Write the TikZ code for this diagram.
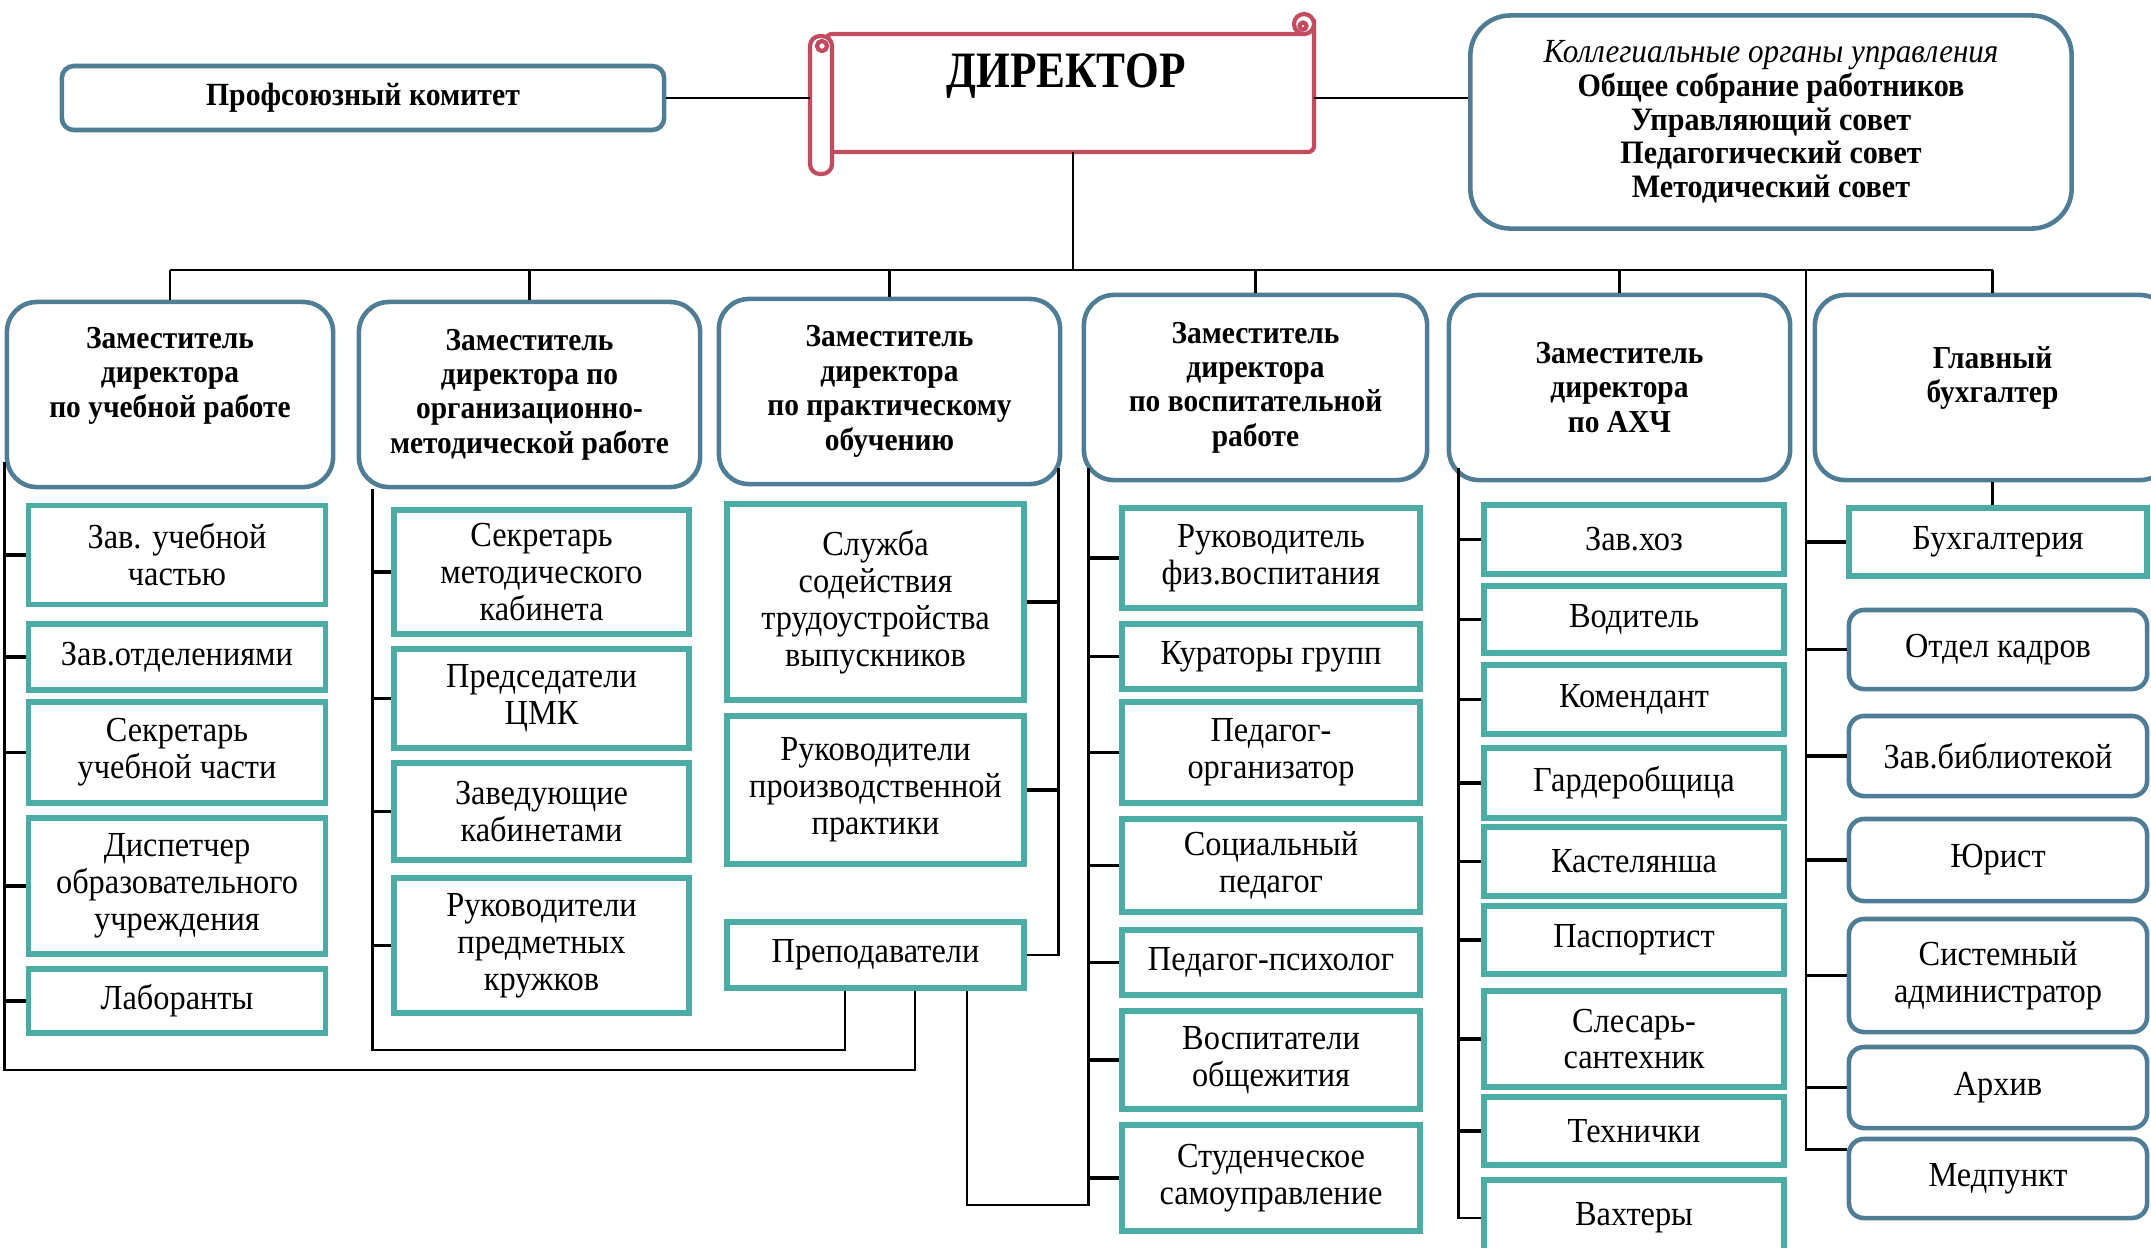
\documentclass[tikz,border=0pt]{standalone}
\usepackage{fontspec}
\setmainfont{Liberation Serif}[FakeStretch=0.92]
\newfontfamily\dirfont[FakeStretch=0.85]{Liberation Serif}
\usetikzlibrary{calc}

\definecolor{depblue}{RGB}{80,125,150}
\definecolor{unitteal}{RGB}{75,172,165}
\definecolor{scrollred}{RGB}{195,75,95}

\tikzset{
  deputy/.style={draw=depblue, line width=1.3pt, rounded corners=0.3cm, fill=white, align=center,
    inner sep=0pt, minimum height=1.85cm, font=\fontsize{9.1}{9.8}\selectfont\bfseries},
  unit/.style={draw=unitteal, line width=1.5pt, fill=white, align=center, inner sep=0pt,
    font=\fontsize{10}{10.5}\selectfont},
  unitround/.style={unit, draw=depblue, line width=1.3pt, rounded corners=0.15cm},
  council/.style={draw=depblue, line width=1.3pt, fill=white, align=center, inner sep=0pt},
  link/.style={black, line width=0.8pt},
  tick/.style={black, line width=1.1pt},
  scroll/.style={draw=scrollred, fill=white, line width=1.2pt}
}

\begin{document}
\begin{tikzpicture}[x=0.01cm, y=-0.01cm]
    \fill[white] (0,0) rectangle (2151,1247);
    \useasboundingbox (0,0) rectangle (2151,1247);

    % Director scroll
    \filldraw[scroll] (826,34) -- (1304,34) -- (1314,24) [rounded corners=0.06cm] -- (1314,152) -- (826,152) -- cycle;
    \filldraw[scroll] (1304,24) circle (0.1cm);
    \draw[scroll] (1303,26) circle (0.035cm);
    \filldraw[scroll, rounded corners=0.1cm] (810,36) rectangle (832,174);
    \draw[scroll] (822,46) circle (0.05cm);
    \node[font=\dirfont\fontsize{14.5}{16}\selectfont\bfseries] (dir) at (1066,76) {ДИРЕКТОР};

    \coordinate (dirL) at (810,98);
    \coordinate (dirR) at (1314,98);
    \coordinate (dirB) at (1073,152);
    \coordinate (bus) at (0,270);

    % Top row
    \node[council, rounded corners=0.12cm, minimum width=6.02cm, minimum height=0.64cm,
      font=\fontsize{9.2}{11}\selectfont\bfseries] (pk) at (363,98) {Профсоюзный комитет};
    \node[council, rounded corners=0.4cm, minimum width=6.01cm, minimum height=2.13cm,
      font=\fontsize{9.3}{9.6}\selectfont] (kol) at (1771,122)
      {{\fontsize{9.6}{9.6}\selectfont\itshape Коллегиальные органы управления}\\ \textbf{Общее собрание работников}\\
       \textbf{Управляющий совет}\\ \textbf{Педагогический совет}\\ \textbf{Методический совет}};

    % Deputies
    \node[deputy, minimum width=3.26cm] (D1) at (170,394.5) {Заместитель\\директора\\по учебной работе\\[3pt]\mbox{}};
    \node[deputy, minimum width=3.41cm] (D2) at (529.5,394.5) {Заместитель\\директора по\\организационно-\\методической работе};
    \node[deputy, minimum width=3.41cm] (D3) at (889.5,391.5) {Заместитель\\директора\\по практическому\\обучению};
    \node[deputy, minimum width=3.43cm] (D4) at (1255.5,387.5) {Заместитель\\директора\\по воспитательной\\работе};
    \node[deputy, minimum width=3.41cm] (D5) at (1619.5,387.5) {Заместитель\\директора\\по АХЧ};
    \node[deputy, minimum width=3.55cm] (D6) at (1992.5,387.5) {Главный\\бухгалтер\\[-2.5pt]\mbox{}};

    % Units
    \foreach \n/\y/\hh/\txt in {a1/555/0.99/{Зав. учебной\\частью}, a2/657/0.66/{Зав.отделениями},
        a3/752.5/1.01/{Секретарь\\учебной части}, a4/886/1.36/{Диспетчер\\образовательного\\учреждения},
        a5/1001/0.64/{Лаборанты}}
      \node[unit, minimum width=2.97cm, minimum height=\hh cm] (\n) at (177,\y) {\txt};
    \foreach \n/\y/\hh/\txt in {b1/572/1.24/{Секретарь\\методического\\кабинета}, b2/698.5/0.99/{Председатели\\ЦМК},
        b3/811.5/0.97/{Заведующие\\кабинетами}, b4/945.5/1.35/{Руководители\\предметных\\кружков}}
      \node[unit, minimum width=2.95cm, minimum height=\hh cm] (\n) at (541.5,\y) {\txt};
    \foreach \n/\y/\hh/\txt in {c1/602/1.96/{Служба\\содействия\\трудоустройства\\выпускников},
        c2/790/1.48/{Руководители\\производственной\\практики}, c3/955/0.66/{Преподаватели}}
      \node[unit, minimum width=2.97cm, minimum height=\hh cm] (\n) at (875.5,\y) {\txt};
    \foreach \n/\y/\hh/\txt in {d1/558/1.00/{Руководитель\\физ.воспитания}, d2/656.5/0.65/{Кураторы групп},
        d3/752.5/1.01/{Педагог-\\организатор}, d4/865.5/0.93/{Социальный\\педагог},
        d5/962.5/0.65/{Педагог-психолог}, d6/1060/0.98/{Воспитатели\\общежития},
        d7/1178/1.06/{Студенческое\\самоуправление}}
      \node[unit, minimum width=2.98cm, minimum height=\hh cm] (\n) at (1271,\y) {\txt};
    \foreach \n/\y/\hh/\txt in {e1/539.5/0.69/{Зав.хоз}, e2/619.5/0.67/{Водитель}, e3/699.5/0.69/{Комендант},
        e4/783/0.70/{Гардеробщица}, e5/861.5/0.69/{Кастелянша}, e6/940/0.68/{Паспортист},
        e7/1039/0.96/{Слесарь-\\сантехник}, e8/1131/0.68/{Технички}, e9/1218/0.76/{Вахтеры}}
      \node[unit, minimum width=3.00cm, minimum height=\hh cm] (\n) at (1634,\y) {\txt};
    \node[unit, minimum width=2.98cm, minimum height=0.68cm] (f1) at (1998,542) {Бухгалтерия};
    \foreach \n/\y/\hh/\txt in {f2/649.5/0.79/{Отдел кадров}, f3/756/0.80/{Зав.библиотекой},
        f4/860/0.82/{Юрист}, f5/975.5/1.13/{Системный\\администратор}, f6/1087.5/0.81/{Архив},
        f7/1178.5/0.79/{Медпункт}}
      \node[unitround, minimum width=2.98cm, minimum height=\hh cm] (\n) at (1998,\y) {\txt};

    % Top connectors
    \draw[link] (pk.east) -- (dirL);
    \draw[link] (dirR) -- (dirR -| kol.west);
    \draw[link] (dirB) -- (dirB |- bus);
    \draw[link] (D1.north |- bus) -- (D6.north |- bus);
    \foreach \i in {1,...,6}
      \draw[link] (D\i.north) -- (D\i.north |- bus);

    % Spines
    \coordinate (asp) at ($(D1.south west)+(0,-27)$);
    \coordinate (bsp) at ($(D2.south west)+(16,0)$);
    \coordinate (csp) at ($(D3.south east)+(-4,-18)$);
    \coordinate (dsp) at ($(D4.south west)+(7,-14)$);
    \coordinate (esp) at ($(D5.south west)+(12,-14)$);
    \coordinate (fsp) at (1806,270);
    \coordinate (p1) at (915,1070);
    \coordinate (p2) at (845,1050);
    \coordinate (p3) at (967,1205);

    \draw[link] (asp) |- (p1) -- (p1 |- c3.south);
    \draw[link] (bsp) |- (p2) -- (p2 |- c3.south);
    \draw[link] (dsp) |- (p3) -- (p3 |- c3.south);
    \draw[link] (csp) |- (c3.east);
    \draw[link] (esp) |- (e9.west);
    \draw[link] (fsp) |- ($(f7.west)+(0,-29)$);
    \draw[link] (D6.south) -- (D6.south |- f1.north);

    % Ticks
    \foreach \i in {1,...,5}
      \draw[tick] (asp |- a\i.west) -- (a\i.west);
    \foreach \i in {1,...,4}
      \draw[tick] (bsp |- b\i.west) -- (b\i.west);
    \foreach \i in {1,2}
      \draw[tick] (c\i.east) -- (csp |- c\i.east);
    \foreach \i in {1,...,7}
      \draw[tick] (dsp |- d\i.west) -- (d\i.west);
    \foreach \i in {1,...,8}
      \draw[tick] (esp |- e\i.west) -- (e\i.west);
    \foreach \i in {1,...,6}
      \draw[tick] (fsp |- f\i.west) -- (f\i.west);

\end{tikzpicture}
\end{document}
